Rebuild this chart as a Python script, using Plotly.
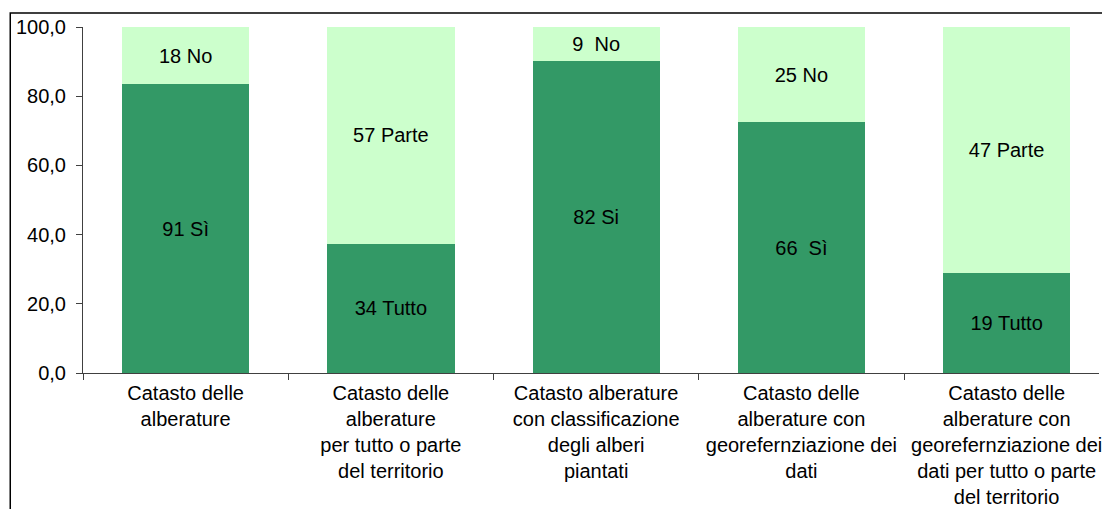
import plotly.graph_objects as go

categories = [
    "Catasto delle<br>alberature",
    "Catasto delle<br>alberature<br>per tutto o parte<br>del territorio",
    "Catasto alberature<br>con classificazione<br>degli alberi<br>piantati",
    "Catasto delle<br>alberature con<br>georefernziazione dei<br>dati",
    "Catasto delle<br>alberature con<br>georefernziazione dei<br>dati per tutto o parte<br>del territorio",
]
yes_counts = [91, 34, 82, 66, 19]
yes_labels = ["Sì", "Tutto", "Si", "\u00a0Sì", "Tutto"]
no_counts = [18, 57, 9, 25, 47]
no_labels = ["No", "Parte", "\u00a0No", "No", "Parte"]

FONT = "Liberation Sans, Arial, sans-serif"
FS = 20

fig = go.Figure()
fig.add_trace(go.Bar(x=categories, y=yes_counts,
                     text=[f"{c} {l}" for c, l in zip(yes_counts, yes_labels)],
                     marker=dict(color="#339966", line=dict(width=0)),
                     textposition="inside", insidetextanchor="middle",
                     textfont=dict(color="black", size=FS, family=FONT),
                     width=0.62, showlegend=False))
fig.add_trace(go.Bar(x=categories, y=no_counts,
                     text=[f"{c} {l}" for c, l in zip(no_counts, no_labels)],
                     marker=dict(color="#CCFFCC", line=dict(width=0)),
                     textposition="inside", insidetextanchor="middle",
                     textfont=dict(color="black", size=FS, family=FONT),
                     width=0.62, showlegend=False))

fig.update_layout(
    width=1102, height=509,
    margin=dict(l=83, r=0, t=27, b=136),
    barmode="stack", barnorm="percent",
    separators=",.",
    plot_bgcolor="white", paper_bgcolor="white",
    font=dict(family=FONT, size=FS, color="black"),
    xaxis=dict(range=[-0.5, 4.45], tickson="boundaries", ticks="outside",
               ticklen=6, tickcolor="#404040", showline=True, linecolor="#404040",
               linewidth=1, showgrid=False, tickangle=0, ticklabelstandoff=2,
               tickfont=dict(size=FS, family=FONT)),
    yaxis=dict(range=[0, 100], dtick=20, tickformat=".1f", ticks="outside",
               ticklen=6, tickcolor="#404040", showline=True, linecolor="#404040",
               linewidth=1, showgrid=False, zeroline=False, ticklabelstandoff=6,
               tickfont=dict(size=FS, family=FONT)),
    shapes=[dict(type="rect", xref="paper", yref="paper",
                 x0=-0.0716, x1=1.05, y0=-0.6, y1=1.0405,
                 line=dict(color="black", width=1.5), fillcolor="rgba(0,0,0,0)",
                 layer="above")],
)

# drop the default body margin so the 1102x509 figure fills the window
fig.write_html("out.html", config={"displayModeBar": False},
               post_script="document.body.style.margin='0';")
